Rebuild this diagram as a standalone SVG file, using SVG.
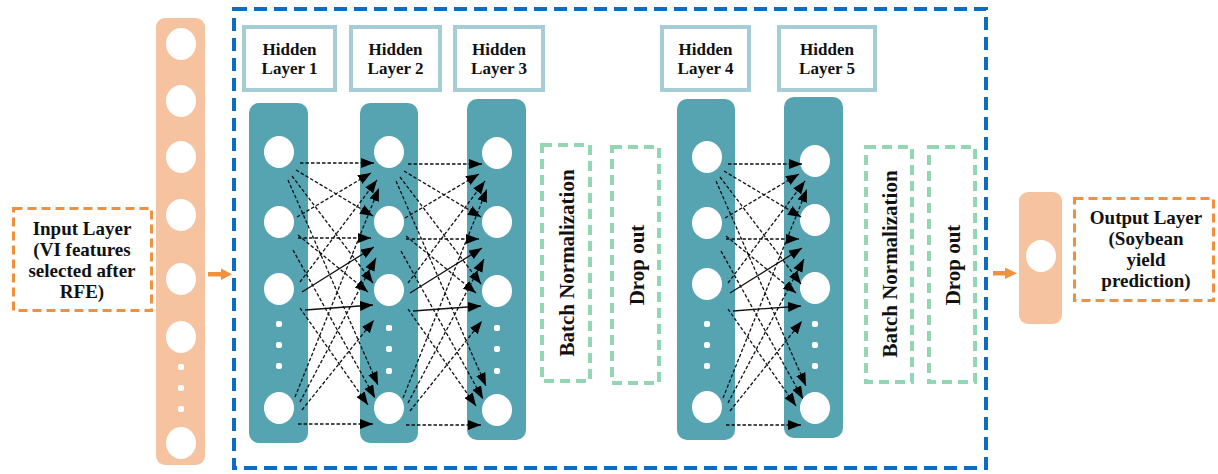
<svg xmlns="http://www.w3.org/2000/svg" width="1218" height="474" viewBox="0 0 1218 474">
  <style>
    .peach { fill: #F5C39F; }
    .col { fill: #56A3B1; }
    .node { fill: #ffffff; }
    .lbl { fill: #ffffff; stroke: #A6CDD6; stroke-width: 4; }
    .reg { fill: #ffffff; stroke: #93D6B3; stroke-width: 4; stroke-dasharray: 10 6; }
    .io { fill: #ffffff; stroke: #F0913B; stroke-width: 3; stroke-dasharray: 9 5; }
    .frame { fill: none; stroke: #0B6CC3; stroke-width: 4; stroke-dasharray: 13 7; }
    .t { font-family: "Liberation Serif", "Times New Roman", serif; font-weight: bold; fill: #111111; text-anchor: middle; }
    .d { fill: none; stroke: #111111; stroke-width: 1.3; stroke-dasharray: 3.5 2; marker-end: url(#ah); }
    .s { fill: none; stroke: #111111; stroke-width: 1.3; marker-end: url(#ah); }
    .flow { fill: #F0913B; }
  </style>
  <defs>
    <marker id="ah" viewBox="0 0 13 10" refX="13" refY="5" markerWidth="13" markerHeight="10" markerUnits="userSpaceOnUse" orient="auto">
      <path d="M0,0 L13,5 L0,10 z" fill="#000"/>
    </marker>
    <!-- fully connected mesh between two adjacent 4-node columns -->
    <g id="mesh">
      <line class="d" x1="300" y1="163" x2="374" y2="163"/>
      <line class="d" x1="296" y1="170" x2="373" y2="216"/>
      <line class="d" x1="292" y1="176" x2="373" y2="283"/>
      <line class="d" x1="288" y1="180" x2="378" y2="385"/>
      <line class="d" x1="297" y1="217" x2="371" y2="173"/>
      <line class="d" x1="298" y1="238" x2="371" y2="238"/>
      <line class="d" x1="298" y1="235" x2="368" y2="292"/>
      <line class="d" x1="293" y1="250" x2="375" y2="398"/>
      <line class="d" x1="300" y1="282" x2="377" y2="180"/>
      <line class="s" x1="302" y1="292" x2="374" y2="247"/>
      <line class="s" x1="305" y1="310" x2="373" y2="305"/>
      <line class="d" x1="300" y1="308" x2="368" y2="405"/>
      <line class="d" x1="295" y1="397" x2="379" y2="188"/>
      <line class="d" x1="300" y1="402" x2="376" y2="258"/>
      <line class="d" x1="302" y1="410" x2="374" y2="320"/>
      <line class="d" x1="298" y1="424" x2="373" y2="424"/>
    </g>
  </defs>

  <!-- dashed frame around the hidden stack -->
  <rect class="frame" x="234" y="9" width="752" height="459"/>

  <!-- input layer -->
  <g id="input-layer">
    <rect class="peach" x="156" y="18" width="49" height="447" rx="9"/>
    <ellipse class="node" cx="181" cy="44" rx="15" ry="16"/>
    <ellipse class="node" cx="181" cy="101" rx="15" ry="16"/>
    <ellipse class="node" cx="181" cy="157" rx="15" ry="16"/>
    <ellipse class="node" cx="181" cy="215" rx="15" ry="16"/>
    <ellipse class="node" cx="181" cy="279" rx="15" ry="16"/>
    <ellipse class="node" cx="181" cy="337" rx="15" ry="16"/>
    <rect class="node" x="178" y="364" width="6" height="6" rx="2"/>
    <rect class="node" x="178" y="385" width="6" height="6" rx="2"/>
    <rect class="node" x="178" y="406" width="6" height="6" rx="2"/>
    <ellipse class="node" cx="181" cy="443" rx="15" ry="16"/>
  </g>
  <g id="input-label">
    <rect class="io" x="13.5" y="208.5" width="138" height="102"/>
    <text class="t" font-size="19" x="82" y="235">Input Layer</text>
    <text class="t" font-size="19" x="82" y="256">(VI features</text>
    <text class="t" font-size="19" x="82" y="277">selected after</text>
    <text class="t" font-size="19" x="82" y="298">RFE)</text>
  </g>
  <g id="in-arrow">
    <rect class="flow" x="208" y="272" width="14" height="4.5"/>
    <path class="flow" d="M221,268.5 L232,274.2 L221,280 z"/>
  </g>

  <!-- hidden layer titles -->
  <g id="title-1"><rect class="lbl" x="244" y="27" width="91" height="63"/><text class="t" font-size="17" x="289.5" y="55">Hidden</text><text class="t" font-size="17" x="289.5" y="74">Layer 1</text></g>
  <g id="title-2"><rect class="lbl" x="351" y="27" width="89" height="63"/><text class="t" font-size="17" x="395.5" y="55">Hidden</text><text class="t" font-size="17" x="395.5" y="74">Layer 2</text></g>
  <g id="title-3"><rect class="lbl" x="455" y="27" width="88" height="63"/><text class="t" font-size="17" x="499" y="55">Hidden</text><text class="t" font-size="17" x="499" y="74">Layer 3</text></g>
  <g id="title-4"><rect class="lbl" x="662" y="27" width="87" height="63"/><text class="t" font-size="17" x="705.5" y="55">Hidden</text><text class="t" font-size="17" x="705.5" y="74">Layer 4</text></g>
  <g id="title-5"><rect class="lbl" x="779" y="27" width="96" height="63"/><text class="t" font-size="17" x="827" y="55">Hidden</text><text class="t" font-size="17" x="827" y="74">Layer 5</text></g>

  <!-- hidden layer columns -->
  <g id="hidden-1">
    <rect class="col" x="249" y="103" width="59" height="340" rx="10"/>
    <ellipse class="node" cx="279" cy="152" rx="15" ry="16"/>
    <ellipse class="node" cx="279" cy="222" rx="15" ry="16"/>
    <ellipse class="node" cx="279" cy="289" rx="15" ry="16"/>
    <rect class="node" x="276" y="321" width="6" height="6" rx="2"/>
    <rect class="node" x="276" y="342" width="6" height="6" rx="2"/>
    <rect class="node" x="276" y="363" width="6" height="6" rx="2"/>
    <ellipse class="node" cx="279" cy="408" rx="15" ry="16"/>
  </g>
  <g id="hidden-2">
    <rect class="col" x="360" y="103" width="58" height="340" rx="10"/>
    <ellipse class="node" cx="389" cy="152" rx="15" ry="16"/>
    <ellipse class="node" cx="389" cy="222" rx="15" ry="16"/>
    <ellipse class="node" cx="389" cy="290" rx="15" ry="16"/>
    <rect class="node" x="386" y="325" width="6" height="6" rx="2"/>
    <rect class="node" x="386" y="346" width="6" height="6" rx="2"/>
    <rect class="node" x="386" y="368" width="6" height="6" rx="2"/>
    <ellipse class="node" cx="389" cy="408" rx="15" ry="16"/>
  </g>
  <g id="hidden-3">
    <rect class="col" x="467" y="99" width="59" height="341" rx="10"/>
    <ellipse class="node" cx="497" cy="153" rx="15" ry="16"/>
    <ellipse class="node" cx="497" cy="222" rx="15" ry="16"/>
    <ellipse class="node" cx="497" cy="291" rx="15" ry="16"/>
    <rect class="node" x="494" y="325" width="6" height="6" rx="2"/>
    <rect class="node" x="494" y="346" width="6" height="6" rx="2"/>
    <rect class="node" x="494" y="368" width="6" height="6" rx="2"/>
    <ellipse class="node" cx="497" cy="410" rx="15" ry="16"/>
  </g>
  <g id="hidden-4">
    <rect class="col" x="677" y="99" width="58" height="341" rx="10"/>
    <ellipse class="node" cx="707" cy="157" rx="15" ry="16"/>
    <ellipse class="node" cx="707" cy="223" rx="15" ry="16"/>
    <ellipse class="node" cx="707" cy="284" rx="15" ry="16"/>
    <rect class="node" x="704" y="321" width="6" height="6" rx="2"/>
    <rect class="node" x="704" y="342" width="6" height="6" rx="2"/>
    <rect class="node" x="704" y="363" width="6" height="6" rx="2"/>
    <ellipse class="node" cx="707" cy="407" rx="15" ry="16"/>
  </g>
  <g id="hidden-5">
    <rect class="col" x="784" y="97" width="59" height="341" rx="10"/>
    <ellipse class="node" cx="815" cy="161" rx="15" ry="16"/>
    <ellipse class="node" cx="815" cy="220" rx="15" ry="16"/>
    <ellipse class="node" cx="815" cy="288" rx="15" ry="16"/>
    <rect class="node" x="812" y="321" width="6" height="6" rx="2"/>
    <rect class="node" x="812" y="342" width="6" height="6" rx="2"/>
    <rect class="node" x="812" y="363" width="6" height="6" rx="2"/>
    <ellipse class="node" cx="815" cy="408" rx="15" ry="16"/>
  </g>

  <!-- regularisation blocks -->
  <g id="batchnorm-1"><rect class="reg" x="542" y="145" width="48" height="236"/><text class="t" font-size="21" transform="translate(574,263) rotate(-90)">Batch Normalization</text></g>
  <g id="dropout-1"><rect class="reg" x="612" y="147" width="47" height="236"/><text class="t" font-size="21" transform="translate(644,265) rotate(-90)">Drop out</text></g>
  <g id="batchnorm-2"><rect class="reg" x="866" y="147" width="46" height="235"/><text class="t" font-size="21" transform="translate(897,264) rotate(-90)">Batch Normalization</text></g>
  <g id="dropout-2"><rect class="reg" x="929" y="147" width="46" height="235"/><text class="t" font-size="21" transform="translate(960,265) rotate(-90)">Drop out</text></g>

  <!-- connections between neighbouring hidden layers -->
  <g id="connectors">
    <use href="#mesh"/>
    <use href="#mesh" transform="translate(108,1)"/>
    <use href="#mesh" transform="translate(428,1)"/>
  </g>

  <!-- output layer -->
  <g id="out-arrow">
    <rect class="flow" x="993" y="271" width="13" height="4.5"/>
    <path class="flow" d="M1005,267.5 L1017,273.2 L1005,279 z"/>
  </g>
  <g id="output-layer">
    <rect class="peach" x="1019" y="192" width="43" height="132" rx="9"/>
    <ellipse class="node" cx="1041" cy="256" rx="15" ry="16"/>
  </g>
  <g id="output-label">
    <rect class="io" x="1074.5" y="198.5" width="139" height="102"/>
    <text class="t" font-size="19" x="1146" y="224">Output Layer</text>
    <text class="t" font-size="19" x="1146" y="245">(Soybean</text>
    <text class="t" font-size="19" x="1146" y="266">yield</text>
    <text class="t" font-size="19" x="1146" y="287">prediction)</text>
  </g>
</svg>
